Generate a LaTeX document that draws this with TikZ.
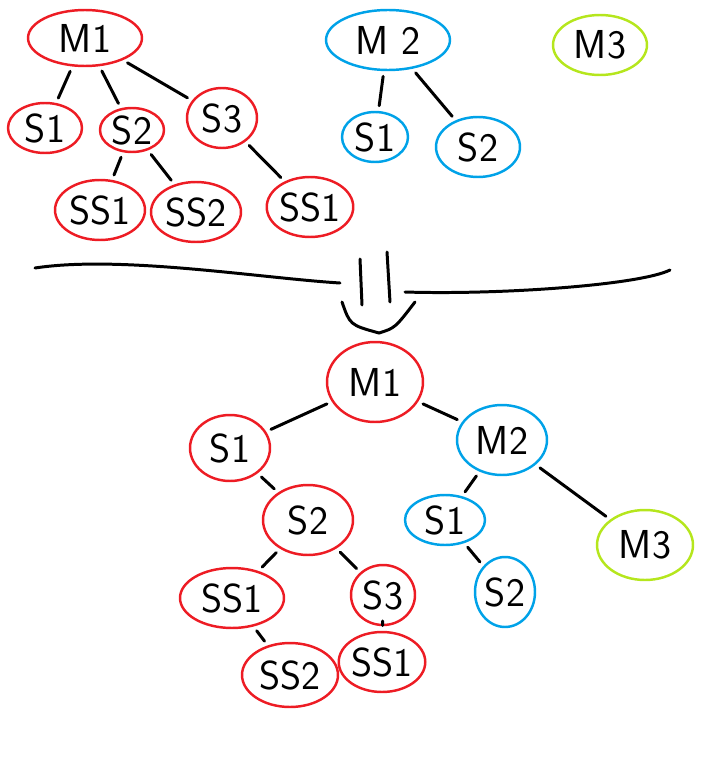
\documentclass[tikz,border=0pt]{standalone}
\usepackage{tikz}
\usetikzlibrary{positioning,arrows,calc}
\usetikzlibrary{shapes.geometric}
\definecolor{pred}{RGB}{237,28,36}
\definecolor{pblue}{RGB}{0,162,232}
\definecolor{pgreen}{RGB}{181,230,29}
\tikzset{blob/.style 2 args={
    draw,ellipse,line width=1.4pt,inner sep=0pt,
    minimum width=#1*0.2mm,minimum height=#2*0.2mm,
    font=\fontsize{23}{26}\sffamily
    },
    redset/.style={pred},
    blueset/.style={pblue},
    greenset/.style={pgreen},
    link/.style={line width=1.7pt,line cap=round,shorten >=3pt,shorten <=3pt}
}
\begin{document}
\begin{tikzpicture}[x=0.02cm,y=-0.02cm,>=latex]
	\useasboundingbox (0,0) rectangle (717,767);
	% before
	\node[blob={114}{56},redset,text=black] (M1) at (85,38) {M1};
	\node[blob={74}{50},redset,text=black] (S1) at (45,128) {S1};
	\node[blob={64}{44},redset,text=black] (S2) at (132,130) {S2};
	\node[blob={70}{60},redset,text=black] (S3) at (222,118) {S3};
	\node[blob={90}{60},redset,text=black] (SS1) at (100,210) {SS1};
	\node[blob={90}{60},redset,text=black] (SS2) at (196,212) {SS2};
	\node[blob={84}{60},redset,text=black] (SSx) at (310,207) {SS1};
	\node[blob={124}{60},blueset,text=black] (M2) at (388,40) {M 2};
	\node[blob={66}{50},blueset,text=black] (T1) at (375,137) {S1};
	\node[blob={84}{60},blueset,text=black] (T2) at (478,147) {S2};
	\node[blob={94}{60},greenset,text=black] (M3) at (600,45) {M3};
	\draw [link] (M1) -- (S1);
	\draw [link] (M1) -- (S2);
	\draw [link] (M1) -- (S3);
	\draw [link] (S2) -- (SS1);
	\draw [link] (S2) -- (SS2);
	\draw [link] (S3) -- (SSx);
	\draw [link] (M2) -- (T1);
	\draw [link] (M2) -- (T2);
	% separator and arrow
	\coordinate (L0) at (35,268);
	\coordinate (L1) at (340,283);
	\coordinate (R0) at (405,292);
	\coordinate (R1) at (670,270);
	\draw [line width=1.7pt,line cap=round] (L0) .. controls (120,255) and (260,278) .. (L1);
	\draw [line width=1.7pt,line cap=round] (R0) .. controls (500,295) and (640,285) .. (R1);
	\coordinate (A0) at (360,259);
	\coordinate (A1) at (362,305);
	\coordinate (B0) at (387,252);
	\coordinate (B1) at (390,302);
	\coordinate (C0) at (342,302);
	\coordinate (C1) at (379,333);
	\coordinate (C2) at (415,302);
	\draw [line width=1.7pt,line cap=round] (A0) -- (A1);
	\draw [line width=1.7pt,line cap=round] (B0) -- (B1);
	\draw [line width=1.7pt,line cap=round] (C0) .. controls (350,325) .. (C1) .. controls (395,328) .. (C2);
	% after
	\node[blob={96}{80},redset,text=black] (N1) at (375,382) {M1};
	\node[blob={80}{66},redset,text=black] (U1) at (230,448) {S1};
	\node[blob={90}{70},blueset,text=black] (N2) at (502,440) {M2};
	\node[blob={90}{70},redset,text=black] (U2) at (308,520) {S2};
	\node[blob={80}{50},blueset,text=black] (V1) at (445,520) {S1};
	\node[blob={96}{70},greenset,text=black] (N3) at (645,545) {M3};
	\node[blob={104}{60},redset,text=black] (UU1) at (232,598) {SS1};
	\node[blob={64}{60},redset,text=black] (U3) at (383,595) {S3};
	\node[blob={60}{70},blueset,text=black] (V2) at (505,592) {S2};
	\node[blob={96}{64},redset,text=black] (UU2) at (290,675) {SS2};
	\node[blob={80}{60},redset,text=black] (UUx) at (382,662) {SS1};
	\draw [link] (N1) -- (U1);
	\draw [link] (N1) -- (N2);
	\draw [link] (U1) -- (U2);
	\draw [link] (U2) -- (UU1);
	\draw [link] (U2) -- (U3);
	\draw [link] (UU1) -- (UU2);
	\draw [link] (U3) -- (UUx);
	\draw [link] (N2) -- (V1);
	\draw [link] (N2) -- (N3);
	\draw [link] (V1) -- (V2);
\end{tikzpicture}
\end{document}
